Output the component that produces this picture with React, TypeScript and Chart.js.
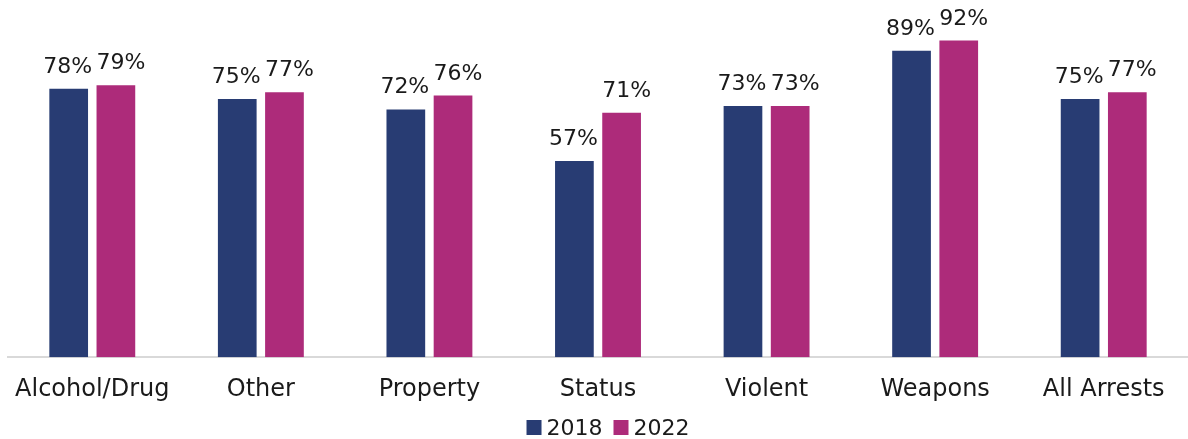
import React, { useEffect, useRef } from "react";
import { Chart, registerables } from "chart.js";

Chart.register(...registerables);

const categories = ["Alcohol/Drug", "Other", "Property", "Status", "Violent", "Weapons", "All Arrests"];
const values2018 = [78, 75, 72, 57, 73, 89, 75];
const values2022 = [79, 77, 76, 71, 73, 92, 77];
const seriesNames = ["2018", "2022"];
const colors = ["#283c73", "#ad2b7a"];

const FONT = "'DejaVu Sans', sans-serif";

const labelPlugin = {
  id: "barLabels",
  afterDatasetsDraw(chart: any) {
    const ctx = chart.ctx;
    ctx.save();
    ctx.font = `22px ${FONT}`;
    ctx.fillStyle = "#1a1a1a";
    ctx.textAlign = "center";
    ctx.textBaseline = "alphabetic";
    chart.data.datasets.forEach((ds: any, i: number) => {
      const meta = chart.getDatasetMeta(i);
      const dx = i === 1 ? 5 : -1;
      meta.data.forEach((bar: any, j: number) => {
        ctx.fillText(ds.data[j] + "%", bar.x + dx, bar.y - 16);
      });
    });
    ctx.restore();
  },
};

const legendPlugin = {
  id: "customLegend",
  afterDraw(chart: any) {
    const ctx = chart.ctx;
    ctx.save();
    ctx.font = `22px ${FONT}`;
    ctx.textBaseline = "alphabetic";
    ctx.textAlign = "left";
    const box = 15;
    const gapText = 5;
    const gapItem = 11;
    const items = chart.data.datasets.map((ds: any) => ({
      label: ds.label,
      color: ds.backgroundColor,
      w: box + gapText + ctx.measureText(ds.label).width,
    }));
    const total = items.reduce((s: number, it: any) => s + it.w, 0) + gapItem * (items.length - 1);
    let x = 608 - total / 2;
    const baseline = 435;
    items.forEach((it: any) => {
      ctx.fillStyle = it.color;
      ctx.fillRect(x, baseline - box, box, box);
      ctx.fillStyle = "#1a1a1a";
      ctx.fillText(it.label, x + box + gapText, baseline);
      x += it.w + gapItem;
    });
    ctx.restore();
  },
};

export default function App() {
  const ref = useRef<HTMLCanvasElement>(null);
  useEffect(() => {
    if (!ref.current) return;
    const chart = new Chart(ref.current, {
      type: "bar",
      data: {
        labels: categories,
        datasets: [
          { label: seriesNames[0], data: values2018, backgroundColor: colors[0] },
          { label: seriesNames[1], data: values2022, backgroundColor: colors[1] },
        ],
      },
      options: {
        responsive: true,
        maintainAspectRatio: false,
        animation: false,
        layout: { padding: { top: 13, left: 8, right: 0, bottom: 25 } },
        datasets: { bar: { categoryPercentage: 0.56, barPercentage: 0.82 } },
        scales: {
          x: {
            grid: { display: false },
            border: { display: true, color: "#d9d9d9", width: 2 },
            ticks: { color: "#1a1a1a", font: { family: FONT, size: 24 }, padding: 10 },
          },
          y: {
            display: false,
            min: 0,
            max: 100,
          },
        },
        plugins: {
          legend: { display: false },
          tooltip: { enabled: false },
        },
      },
      plugins: [labelPlugin, legendPlugin],
    });
    return () => chart.destroy();
  }, []);
  return (
    <div style={{ position: "fixed", left: 0, top: 0, width: 1188, height: 439, background: "#fff" }}>
      <canvas ref={ref} />
    </div>
  );
}
